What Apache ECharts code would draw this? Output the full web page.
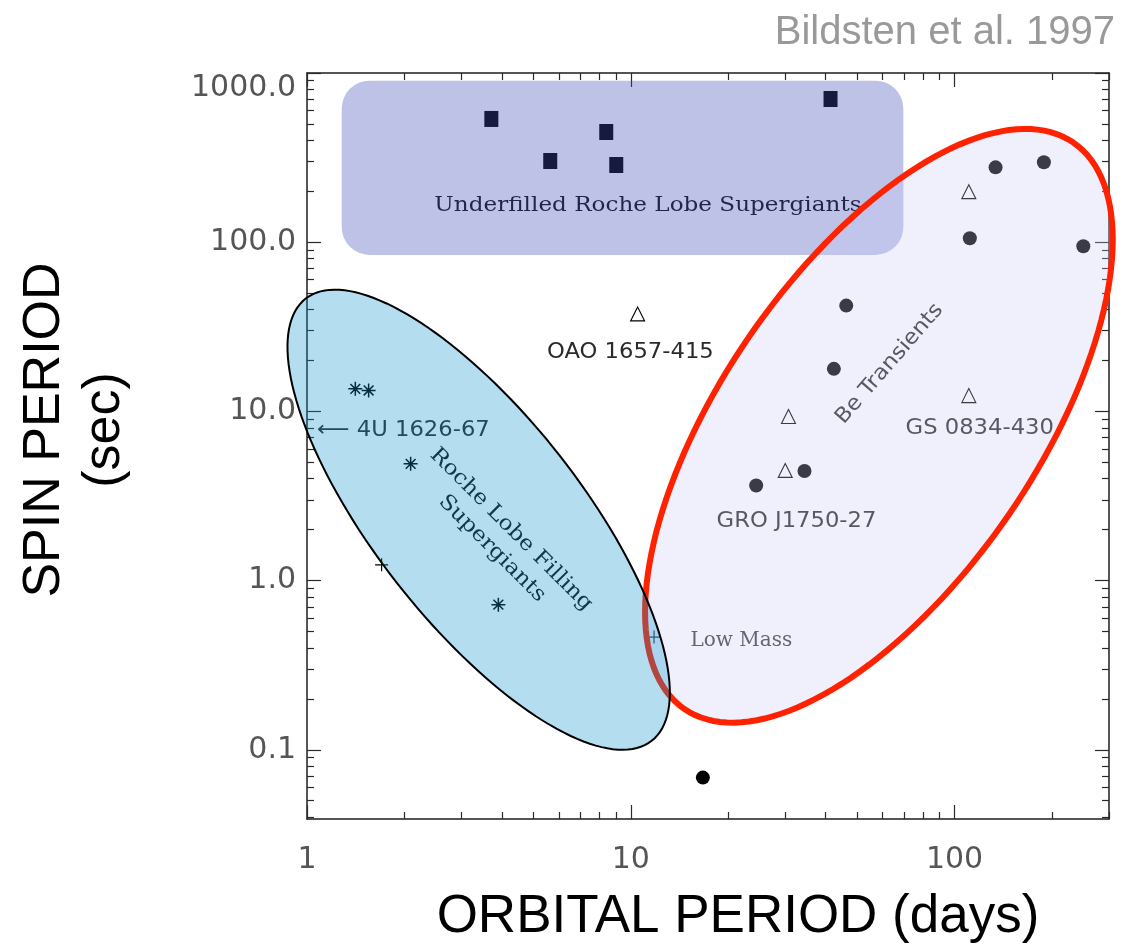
<!DOCTYPE html>
<html>
<head>
<meta charset="utf-8">
<title>Spin vs orbital period</title>
<script src="https://cdn.jsdelivr.net/npm/echarts@6/dist/echarts.min.js"></script>
<style>
html, body { margin: 0; padding: 0; background: #fff; }
#chart { width: 1124px; height: 952px; }
</style>
</head>
<body>
<div id="chart"></div>
<script>
'use strict';

// [orbital period (days), spin period (sec)]
var underfilledSupergiants = [[3.71, 535], [5.64, 302], [8.40, 448], [9.02, 286], [41.4, 702]];
var beTransients = [[133.9, 277], [188.8, 297], [111.5, 105.6], [249.9, 94.7], [46.3, 42.2],
    [42.4, 17.85], [34.4, 4.44], [24.4, 3.65]];
var openTriangles = [[110.7, 199], [30.7, 9.33], [110.7, 12.4], [30.0, 4.48], [10.5, 37.7]];
var rocheFilling = [[1.41, 13.6], [1.55, 13.3], [2.09, 4.90], [3.90, 0.721]];
var lowMass = [[1.70, 1.24], [11.8, 0.464]];
var lmcPulsar = [[16.7, 0.0685]];

var xMajorTicks = [1, 10, 100];
var xMinorTicks = [2, 3, 4, 5, 6, 7, 8, 9, 20, 30, 40, 50, 60, 70, 80, 90, 200, 300];
var yMajorTicks = [0.1, 1, 10, 100, 1000];
var yMinorTicks = [0.04, 0.05, 0.06, 0.07, 0.08, 0.09, 0.2, 0.3, 0.4, 0.5, 0.6, 0.7, 0.8, 0.9,
    2, 3, 4, 5, 6, 7, 8, 9, 20, 30, 40, 50, 60, 70, 80, 90, 200, 300, 400, 500, 600, 700, 800, 900];

// group outlines in data space
var underfilledBox = [1.28, 901, 69.5, 84.1];                    // corner, opposite corner
var rocheOval = [3.39, 2.29, 11.6, 0.113, 6.05, 5.44];             // centre, long axis end, short axis end
var beOval = [58.4, 8.22, 232.8, 388, 147.1, 2.45];

var notes = [
    {text: 'Underfilled Roche Lobe Supergiants', at: [11.3, 163.8], kind: 'serif'},
    {text: 'Roche Lobe Filling\nSupergiants', at: [3.99, 1.76], kind: 'serif', rotate: -45},
    {text: 'Low Mass', at: [21.96, 0.441], kind: 'serifGrey'},
    {text: 'Be Transients', at: [63.0, 19.1], kind: 'sans', rotate: 49},
    {text: 'OAO 1657-415', at: [9.97, 22.2], kind: 'sans'},
    {text: '⟵ 4U 1626-67', at: [1.074, 7.7], kind: 'sans', align: 'left'},
    {text: 'GS 0834-430', at: [70.6, 7.89], kind: 'sans', align: 'left'},
    {text: 'GRO J1750-27', at: [32.5, 2.23], kind: 'sans'}
];

var noteStyles = {
    serif: {font: {fontFamily: 'DejaVu Serif', fontSize: 21, fill: '#111', lineHeight: 27}, stretch: 1.1},
    serifGrey: {font: {fontFamily: 'DejaVu Serif', fontSize: 20, fill: '#3a3a3a'}, stretch: 1},
    sans: {font: {fontFamily: 'DejaVu Sans', fontSize: 21, fill: '#2a2a2a'}, stretch: 1.08}
};

var frame = {color: '#1e1e1e', width: 1.5};
var tickFont = {fontFamily: 'DejaVu Sans', fontSize: 30, color: '#555'};

function ovalPoints(api, v) {
    var c = api.coord([v[0], v[1]]);
    var a = api.coord([v[2], v[3]]);
    var b = api.coord([v[4], v[5]]);
    var pts = [];
    for (var i = 0; i < 160; i++) {
        var t = i * Math.PI * 2 / 160;
        var cs = Math.cos(t), sn = Math.sin(t);
        pts.push([c[0] + (a[0] - c[0]) * cs + (b[0] - c[0]) * sn,
                  c[1] + (a[1] - c[1]) * cs + (b[1] - c[1]) * sn]);
    }
    return pts;
}

function ovalSeries(v, z, style) {
    return {
        type: 'custom', z: z, silent: true, clip: false,
        data: [v], encode: {x: [0, 2, 4], y: [1, 3, 5]},
        renderItem: function (params, api) {
            return {type: 'polygon', shape: {points: ovalPoints(api, v)}, style: style};
        }
    };
}

function axis(dim, pos, grid, major, withLabels, extent) {
    var ax = {
        type: 'log', logBase: 10, gridIndex: grid, position: pos,
        min: extent[0], max: extent[1],
        axisLine: {show: major, lineStyle: frame},
        axisTick: {show: true, inside: true, length: major ? 14 : 7,
            customValues: major ? (dim === 'x' ? xMajorTicks : yMajorTicks) : (dim === 'x' ? xMinorTicks : yMinorTicks),
            lineStyle: {color: '#2a2a2a', width: 1.2}},
        axisLabel: {show: false},
        splitLine: {show: false},
        minorTick: {show: false}
    };
    if (withLabels) {
        ax.axisLabel = Object.assign({
            show: true,
            customValues: dim === 'x' ? xMajorTicks : yMajorTicks,
            margin: dim === 'x' ? 26 : 11,
            formatter: dim === 'x'
                ? function (v) { return String(Math.round(v)); }
                : function (v) {
                    if (v >= 1000) return '{top|' + v.toFixed(1) + '}';
                    return v < 1 ? String(+v.toFixed(1)) : v.toFixed(1);
                },
            rich: {top: {fontFamily: 'DejaVu Sans', fontSize: 30, color: '#555', padding: [30, 0, 0, 0]}}
        }, tickFont);
    }
    return ax;
}

var xExtent = [1, 300];
var yExtent = [0.039, 1000];

var xAxes = [
    axis('x', 'bottom', 0, true, true, xExtent),
    axis('x', 'top', 0, true, false, xExtent),
    axis('x', 'bottom', 1, false, false, xExtent),
    axis('x', 'top', 1, false, false, xExtent)
];
var yAxes = [
    axis('y', 'left', 0, true, true, yExtent),
    axis('y', 'right', 0, true, false, yExtent),
    axis('y', 'left', 1, false, false, yExtent),
    axis('y', 'right', 1, false, false, yExtent)
];

Object.assign(xAxes[0], {
    name: 'ORBITAL PERIOD (days)', nameLocation: 'middle', nameGap: 72,
    nameTextStyle: {fontFamily: 'Liberation Sans', fontSize: 53, color: '#000', padding: [0, 0, 0, 60]}
});
Object.assign(yAxes[0], {
    name: 'SPIN PERIOD\n(sec)', nameLocation: 'middle', nameGap: 172,
    nameTextStyle: {fontFamily: 'Liberation Sans', fontSize: 52, lineHeight: 60, color: '#000',
        align: 'center', padding: [0, 0, 0, 32]}
});

function markers(data, symbol, size, style) {
    return {
        type: 'scatter', z: 2, silent: true, data: data,
        symbol: symbol, symbolSize: size, itemStyle: Object.assign({opacity: 1}, style)
    };
}

var chart = echarts.init(document.getElementById('chart'));
chart.setOption({
    animation: false,
    backgroundColor: '#fff',
    title: {
        text: 'Bildsten et al. 1997', right: 4, top: 8,
        textStyle: {fontFamily: 'Liberation Sans', fontSize: 40, fontWeight: 'normal', color: '#999'}
    },
    grid: [
        {left: 307, top: 73, width: 802, height: 746},
        {left: 307, top: 73, width: 802, height: 746}
    ],
    xAxis: xAxes,
    yAxis: yAxes,
    series: [
        markers(underfilledSupergiants, 'rect', [14, 16], {color: '#000'}),
        markers(beTransients, 'circle', 14, {color: '#000'}),
        markers(lmcPulsar, 'circle', 14, {color: '#000'}),
        markers(openTriangles, 'triangle', 14, {color: 'transparent', borderColor: '#000', borderWidth: 1.1}),
        markers(rocheFilling, 'path://M0,-10L0,10M-10,0L10,0M-7,-7L7,7M-7,7L7,-7', 14,
            {color: 'transparent', borderColor: '#000', borderWidth: 1.5}),
        markers(lowMass, 'path://M-10,0L10,0M0,-10L0,10', 13,
            {color: 'transparent', borderColor: '#000', borderWidth: 1.2}),
        {
            type: 'custom', z: 2, silent: true, clip: false,
            data: notes.map(function (n) { return n.at; }),
            renderItem: function (params, api) {
                var n = notes[params.dataIndex];
                var look = noteStyles[n.kind];
                var p = api.coord(n.at);
                return {
                    type: 'text', x: p[0], y: p[1], scaleX: look.stretch,
                    rotation: (n.rotate || 0) * Math.PI / 180,
                    style: Object.assign({text: n.text, align: n.align || 'center', verticalAlign: 'middle'},
                        look.font)
                };
            }
        },
        {
            type: 'custom', z: 3, silent: true, clip: false,
            data: [underfilledBox], encode: {x: [0, 2], y: [1, 3]},
            renderItem: function (params, api) {
                var p0 = api.coord([underfilledBox[0], underfilledBox[1]]);
                var p1 = api.coord([underfilledBox[2], underfilledBox[3]]);
                return {
                    type: 'rect',
                    shape: {x: p0[0], y: p0[1], width: p1[0] - p0[0], height: p1[1] - p0[1], r: 28},
                    style: {fill: 'rgba(62,77,181,0.34)'}
                };
            }
        },
        ovalSeries(beOval, 4, {fill: 'rgba(203,203,248,0.29)', stroke: '#ff2200', lineWidth: 6}),
        ovalSeries(rocheOval, 5, {fill: 'rgba(13,148,206,0.31)', stroke: '#000', lineWidth: 2})
    ]
});
</script>
</body>
</html>
